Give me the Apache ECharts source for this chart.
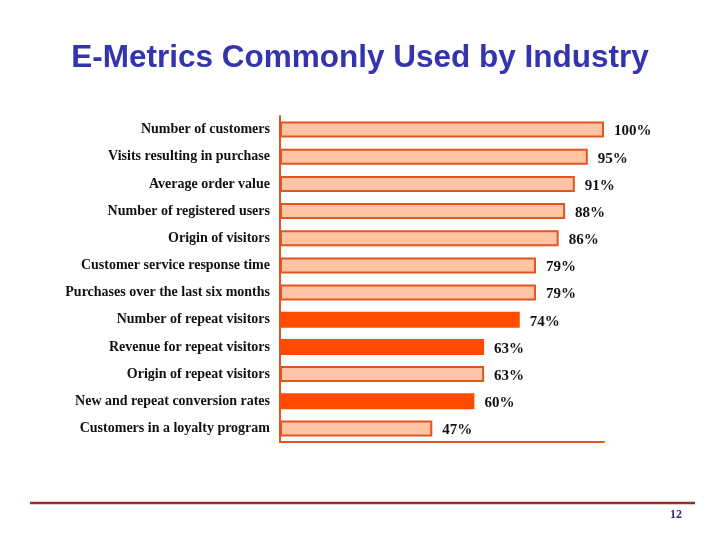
<!DOCTYPE html>
<html>
<head>
<meta charset="utf-8">
<script src="https://cdn.jsdelivr.net/npm/echarts@6/dist/echarts.min.js"></script>
<style>
html,body{margin:0;padding:0;background:#fff;}
#chart{width:720px;height:540px;}
</style>
</head>
<body>
<div id="chart"></div>
<script>
const titleText = 'E-Metrics Commonly Used by Industry';
const pageNumber = '12';
const categories = [
  'Number of customers',
  'Visits resulting in purchase',
  'Average order value',
  'Number of registered users',
  'Origin of visitors',
  'Customer service response time',
  'Purchases over the last six months',
  'Number of repeat visitors',
  'Revenue for repeat visitors',
  'Origin of repeat visitors',
  'New and repeat conversion rates',
  'Customers in a loyalty program'
];
const values = [100, 95, 91, 88, 86, 79, 79, 74, 63, 63, 60, 47];
const highlighted = [false, false, false, false, false, false, false, true, true, false, true, false];

const lightFill = '#FFC4A4';
const lightBorder = '#E0561E';
const darkFill = '#FF4C00';

const chart = echarts.init(document.getElementById('chart'));
chart.setOption({
  animation: false,
  backgroundColor: '#ffffff',
  title: {
    text: titleText,
    left: 'center',
    top: 37,
    textStyle: {
      fontFamily: 'Liberation Sans, Arial, sans-serif',
      fontSize: 31.5,
      fontWeight: 'bold',
      color: '#3434AE'
    }
  },
  grid: { left: 280, right: 116, top: 116, bottom: 98 },
  xAxis: {
    type: 'value',
    min: 0,
    max: 100,
    axisLine: { show: true, lineStyle: { color: '#E0561E', width: 2 } },
    axisTick: { show: false },
    axisLabel: { show: false },
    splitLine: { show: false }
  },
  yAxis: {
    type: 'category',
    inverse: true,
    data: categories,
    axisLine: { show: true, lineStyle: { color: '#E0561E', width: 2 } },
    axisTick: { show: false },
    axisLabel: {
      margin: 10,
      fontFamily: 'Liberation Serif, Times New Roman, serif',
      fontSize: 14,
      fontWeight: 'bold',
      color: '#111'
    }
  },
  series: [{
    type: 'bar',
    barWidth: 16,
    data: values.map((v, i) => ({
      value: v,
      itemStyle: highlighted[i]
        ? { color: darkFill, borderColor: darkFill, borderWidth: 0 }
        : { color: lightFill, borderColor: lightBorder, borderWidth: 2 }
    })),
    label: {
      show: true,
      position: 'right',
      distance: 10,
      offset: [0, 2],
      formatter: '{c}%',
      fontFamily: 'Liberation Serif, Times New Roman, serif',
      fontWeight: 'bold',
      fontSize: 15,
      color: '#111'
    }
  }],
  graphic: [
    {
      type: 'line',
      shape: { x1: 30, y1: 503, x2: 695, y2: 503 },
      style: { stroke: '#9B2A2A', lineWidth: 2.5 }
    },
    {
      type: 'text',
      left: 670,
      top: 509,
      style: {
        text: pageNumber,
        fontFamily: 'Liberation Serif, Times New Roman, serif',
        fontWeight: 'bold',
        fontSize: 12,
        fill: '#2A2A80'
      }
    }
  ]
});
</script>
</body>
</html>
